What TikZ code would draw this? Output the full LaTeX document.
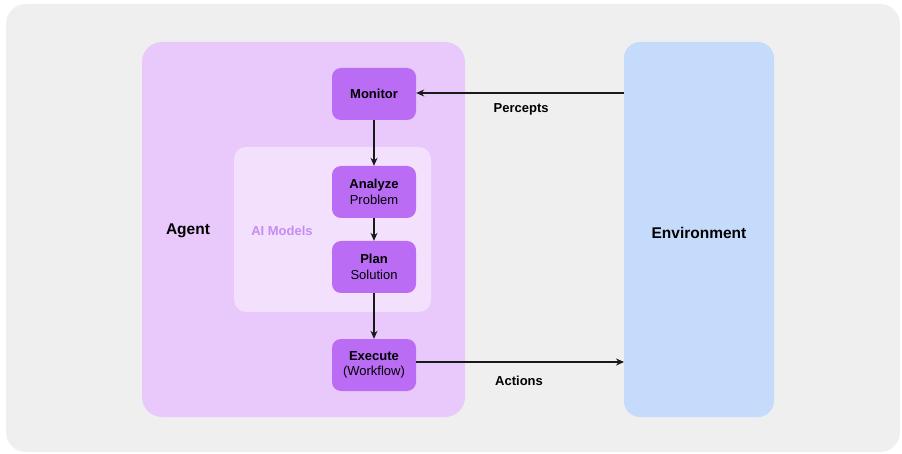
\documentclass[tikz,border=0pt]{standalone}
\usepackage{fontspec}
\setmainfont{Liberation Sans}
\usetikzlibrary{arrows.meta}
\definecolor{canvas}{HTML}{EFEFEF}
\definecolor{agentfill}{HTML}{E9C8FC}
\definecolor{modelfill}{HTML}{F3E0FD}
\definecolor{stepfill}{HTML}{BA6CF4}
\definecolor{envfill}{HTML}{C5DBFC}
\definecolor{modeltext}{HTML}{C48CF5}
\begin{document}
\begin{tikzpicture}[x=1pt,y=-1pt,
  stepbox/.style={fill=stepfill, rounded corners=9pt, minimum width=84pt, minimum height=52pt,
    inner sep=0pt, align=center, font=\fontsize{13}{15.5}\selectfont},
  flow/.style={-{Stealth[length=8pt,width=7pt]}, line width=1.1pt, draw=black!90},
  biglabel/.style={font=\fontsize{15.5}{18}\selectfont\bfseries},
  smalllabel/.style={font=\fontsize{13}{15}\selectfont\bfseries}]
\useasboundingbox (0,0) rectangle (902,454);
\fill[white] (0,0) rectangle (902,454);
% outer canvas
\fill[canvas, rounded corners=20pt] (6,4) rectangle (900,452);
% agent and environment panels
\fill[agentfill, rounded corners=20pt] (142,42) rectangle (465,417);
\fill[modelfill, rounded corners=12pt] (234,147) rectangle (431,312);
\fill[envfill, rounded corners=16pt] (624,42) rectangle (774,417);
\node[biglabel] (agent) at (188,231) {Agent};
\node[smalllabel, text=modeltext] (models) at (282,231) {AI Models};
\node[biglabel] (env) at (699,233) {Environment};
% agent loop steps
\node[stepbox] (monitor) at (374,94) {\textbf{Monitor}};
\node[stepbox] (analyze) at (374,192) {\textbf{Analyze}\\Problem};
\node[stepbox] (plan) at (374,267) {\textbf{Plan}\\Solution};
\node[stepbox] (execute) at (374,365) {\textbf{Execute}\\(Workflow)};
\draw[flow] (monitor) -- (analyze);
\draw[flow] (analyze) -- (plan);
\draw[flow] (plan) -- (execute);
% interaction with the environment
\coordinate (envin) at (624,93);
\coordinate (envout) at (624,362);
\draw[flow] (envin) -- (monitor.east |- envin) node[smalllabel, pos=0.495, below=7pt] (percepts) {Percepts};
\draw[flow] (execute.east |- envout) -- (envout) node[smalllabel, pos=0.495, below=10pt] (actions) {Actions};
\end{tikzpicture}
\end{document}
